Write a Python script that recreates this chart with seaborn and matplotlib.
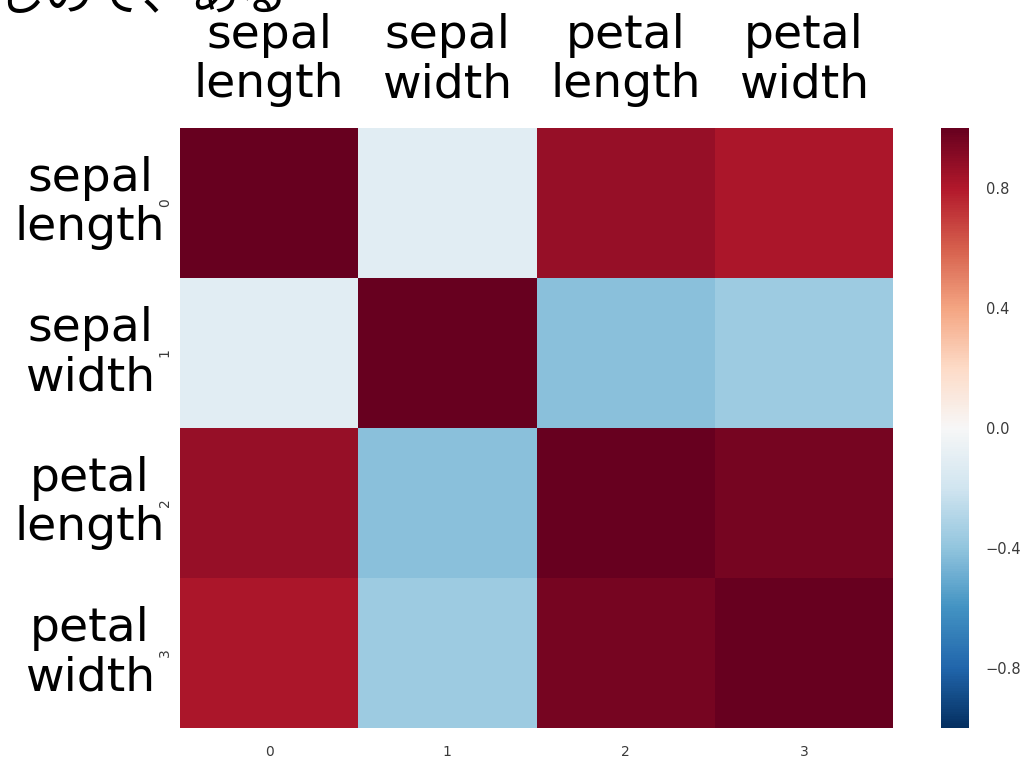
import numpy as np
import pandas as pd
import matplotlib
matplotlib.use("Agg")
import matplotlib.pyplot as plt
import matplotlib.transforms as mtrans
import seaborn as sns

sns.set_style("white")
plt.rcParams['font.family'] = ['DejaVu Sans', 'Noto Sans CJK JP']

# Data
tick_labels = ["0", "1", "2", "3"]
feature_names = ["sepal\nlength", "sepal\nwidth", "petal\nlength", "petal\nwidth"]
row_sepal_length = [1.00, -0.11, 0.87, 0.82]
row_sepal_width = [-0.11, 1.00, -0.42, -0.36]
row_petal_length = [0.87, -0.42, 1.00, 0.96]
row_petal_width = [0.82, -0.36, 0.96, 1.00]
cbar_ticks = [-0.8, -0.4, 0.0, 0.4, 0.8]
header_text = "じので、ある"

corr = pd.DataFrame([row_sepal_length, row_sepal_width, row_petal_length, row_petal_width],
                    index=tick_labels, columns=tick_labels)

W, H = 1029, 757
fig = plt.figure(figsize=(W / 100, H / 100), dpi=100)
ax = fig.add_axes([180 / W, (H - 728) / H, (893 - 180) / W, 600 / H])
cax = fig.add_axes([941 / W, (H - 728) / H, (969 - 941) / W, 600 / H])

sns.heatmap(corr, ax=ax, cbar_ax=cax, cmap="RdBu_r", vmin=-1, vmax=1,
            cbar_kws={"ticks": cbar_ticks})

tick_color = "#3a3a3a"
ax.tick_params(axis="x", length=0, labelsize=10, colors=tick_color, pad=12)
ax.tick_params(axis="y", length=0, labelsize=10, colors=tick_color, pad=6)
ax.set_xticklabels(tick_labels, rotation=0)
ax.set_yticklabels(tick_labels, rotation=90, va="center")
cax.tick_params(length=0, labelsize=10.5, colors=tick_color, pad=12)
cax.set_yticklabels([f"{t:.1f}".replace("-", "\u2212") for t in cbar_ticks])
for s in cax.spines.values():
    s.set_visible(False)

# Large overlay labels
top_tr = mtrans.blended_transform_factory(ax.transData, fig.transFigure)
left_tr = mtrans.blended_transform_factory(fig.transFigure, ax.transData)
for i, name in enumerate(feature_names):
    fig.text(i + 0.5, 1 - 60 / H, name, ha="center", va="center", fontsize=34,
             transform=top_tr, linespacing=1.12, color="black")
    fig.text(90 / W, i + 0.5, name, ha="center", va="center", fontsize=34,
             transform=left_tr, linespacing=1.12, color="black")

fig.text(-4 / W, 1 - 21 / H, header_text, ha="left", va="bottom", fontsize=35,
         color="black", family=['Noto Sans CJK JP', 'DejaVu Sans'])

fig.savefig("out.png", dpi=100)
